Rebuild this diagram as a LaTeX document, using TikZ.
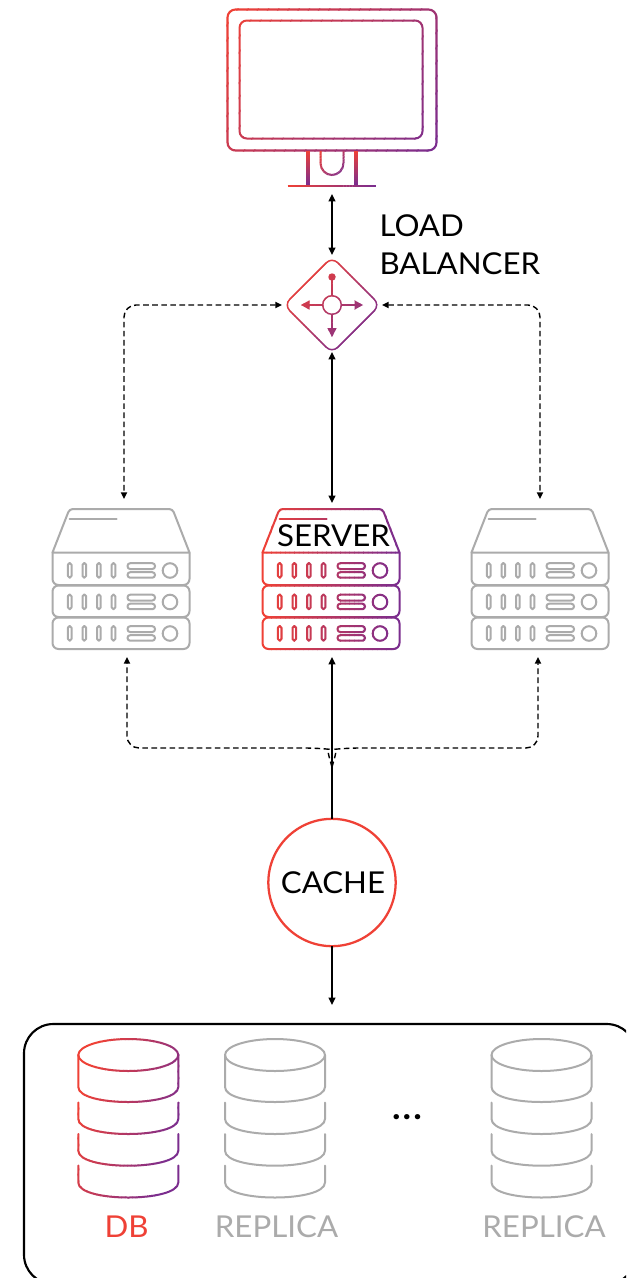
\documentclass[tikz,border=0pt]{standalone}
\usepackage{fontspec}
\setmainfont{Lato}[FakeStretch=1.037]
\usetikzlibrary{arrows.meta,calc}
\definecolor{gbred}{HTML}{EF4136}
\definecolor{gbpurple}{HTML}{7B2D8E}
\definecolor{gbgray}{HTML}{ABABAB}
\tikzset{
  iconbox/.style={inner sep=0pt,outer sep=0pt},
  soft/.style={line width=1.5pt,line cap=round,line join=round},
  solidlink/.style={line width=1.5pt,black,{Triangle[length=5.5pt,width=5pt]}-{Triangle[length=5.5pt,width=5pt]}},
  uplink/.style={line width=1.5pt,black,-{Triangle[length=5.5pt,width=5pt]}},
  dashlink/.style={line width=1.05pt,black,dash pattern=on 4.2pt off 2.6pt,rounded corners=9pt,{Triangle[length=5pt,width=4.6pt]}-{Triangle[length=5pt,width=4.6pt]}},
  dashup/.style={line width=1.05pt,black,dash pattern=on 4.2pt off 2.6pt,rounded corners=9pt,-{Triangle[length=5pt,width=4.6pt]}},
  label/.style={inner sep=0pt,outer sep=0pt,font=\fontsize{22.6}{28.5}\selectfont},
}
% stroke content in a colour running from red at A to purple at B
\newcommand\gradstroke[5]{%
  \pgfmathsetmacro\gdx{#3-#1}\pgfmathsetmacro\gdy{#4-#2}%
  \foreach \gi in {0,...,29}{%
    \pgfmathsetmacro\gpct{100*\gi/29}%
    \pgfmathsetmacro\gta{\gi==0 ? -4 : \gi/30}%
    \pgfmathsetmacro\gtb{\gi==29 ? 5 : (\gi+1)/30+0.004}%
    \begin{scope}
      \clip ({#1+\gta*\gdx-3*\gdy},{#2+\gta*\gdy+3*\gdx})
         -- ({#1+\gtb*\gdx-3*\gdy},{#2+\gtb*\gdy+3*\gdx})
         -- ({#1+\gtb*\gdx+3*\gdy},{#2+\gtb*\gdy-3*\gdx})
         -- ({#1+\gta*\gdx+3*\gdy},{#2+\gta*\gdy-3*\gdx}) -- cycle;
      \begin{scope}[color=gbpurple!\gpct!gbred]
        #5
      \end{scope}
    \end{scope}
  }%
}
\newcommand\rackunit[1]{%
  \foreach \sx in {279.7,294.3,308.9,323.5}{
    \draw[rounded corners=1.3pt] (\sx-1.8,#1+10) rectangle (\sx+1.8,#1+24.7);
  }
  \draw[rounded corners=2pt] (337.5,#1+10.2) rectangle (365,#1+16);
  \draw[rounded corners=2pt] (337.5,#1+19.2) rectangle (365,#1+24.7);
  \draw (380,#1+17.5) circle[radius=7.3];
}
\newcommand\serverbody{%
  \begin{scope}[soft]
  \draw (262.5,552.5) [rounded corners=2.5pt] -- (279.5,509) -- (382.5,509) [sharp corners] -- (399.5,552.5) -- cycle;
  \draw (279.7,519) -- (326.7,519);
  \draw (262.5,552.5) [rounded corners=4.5pt] -- (262.5,585) -- (399.5,585) [sharp corners] -- (399.5,552.5);
  \draw[rounded corners=4.5pt] (262.5,585.5) rectangle (399.5,617);
  \draw[rounded corners=4.5pt] (262.5,617.5) rectangle (399.5,649);
  \rackunit{553}\rackunit{584.5}\rackunit{616}
  \end{scope}
}
\newcommand\dblayer[2]{%
  (78.3,#1) -- (78.3,#2-15) .. controls (78.3,#2-5) and (103,#2) .. (128.3,#2)
  .. controls (153,#2) and (178.3,#2-5) .. (178.3,#2-15) -- (178.3,#1)
}
\newcommand\dbbody{%
  \begin{scope}[soft]
  \draw (128.3,1055) ellipse[x radius=50,y radius=16];
  \draw \dblayer{1055}{1102};
  \draw \dblayer{1102.5}{1134};
  \draw \dblayer{1134}{1165.7};
  \draw \dblayer{1165.5}{1197.5};
  \end{scope}
}
\begin{document}
\begin{tikzpicture}[x=0.75pt,y=-0.75pt]
\useasboundingbox (0,0) rectangle (626,1278);
\fill[white] (0,0) rectangle (626,1278);
\clip (0,0) rectangle (626,1278);

% anchors for the connectors
\node[iconbox,minimum width=157.5pt,minimum height=133.5pt] (monitor) at (332,98) {};
\node[iconbox,minimum width=67.5pt,minimum height=67.5pt] (lb) at (332,305) {};
\node[iconbox,minimum width=102.75pt,minimum height=105pt] (srvL) at (121,579) {};
\node[iconbox,minimum width=102.75pt,minimum height=105pt] (srvC) at (331,579) {};
\node[iconbox,minimum width=102.75pt,minimum height=105pt] (srvR) at (540,579) {};
\coordinate (topL) at (124,499);
\coordinate (topR) at (540,499);
\coordinate (botL) at (127,657);
\coordinate (botR) at (538,657);
\coordinate (join) at (332,767);

% container
\node[draw=black,line width=1.6pt,rounded corners=22pt,inner sep=0pt,outer sep=0pt,minimum width=459pt,minimum height=195pt] (container) at (330,1154) {};

% monitor
\gradstroke{227}{9}{437}{151}{
  \draw[line width=1.6pt,rounded corners=6pt] (227.5,9.5) rectangle (436.5,150.5);
  \draw[line width=1.5pt,rounded corners=5.5pt] (239.5,20.5) rectangle (422.5,138.5);
}
\gradstroke{320}{151}{344}{175}{
  \draw[line width=1.5pt] (320.5,151) -- (320.5,163) arc[start angle=180,end angle=360,x radius=11.5,y radius=-12] -- (343.5,151);
}
\gradstroke{332}{151}{332}{186}{
  \draw[line width=2.7pt] (307.7,151) -- (307.7,186);
  \draw[line width=2.7pt] (355.7,151) -- (355.7,186);
}
\gradstroke{287}{186}{376}{186}{
  \draw[line width=1.6pt] (287.5,185.7) -- (376,185.7);
}

% load balancer
\gradstroke{300}{272}{365}{338}{
  \draw[line width=1.1pt,rounded corners=6pt] (332,257) -- (380,305) -- (332,353) -- (284,305) -- cycle;
  \draw[line width=1.1pt] (332,305) circle[radius=9.3];
  \draw[line width=1.1pt] (332,279) -- (332,295.7);
  \draw[line width=1.1pt] (332,314.3) -- (332,330);
  \draw[line width=1.1pt] (308,305) -- (322.7,305);
  \draw[line width=1.1pt] (341.3,305) -- (356,305);
  \fill (332,277) circle[radius=3.7];
  \fill (301,305) -- (309.5,300.3) -- (309.5,309.7) -- cycle;
  \fill (363,305) -- (354.5,300.3) -- (354.5,309.7) -- cycle;
  \fill (332,337) -- (327.3,328) -- (336.7,328) -- cycle;
}

% servers
\begin{scope}[shift={(-210,0)},color=gbgray]\serverbody\end{scope}
\begin{scope}[shift={(209,0)},color=gbgray]\serverbody\end{scope}
\gradstroke{262}{579}{400}{579}{\serverbody}
\node[label,anchor=base] (srvtext) at (333.5,546.7) {SERVER};

% databases
\gradstroke{78}{1100}{178}{1130}{\dbbody}
\begin{scope}[shift={(146.7,0)},color=gbgray]\dbbody\end{scope}
\begin{scope}[shift={(413.2,0)},color=gbgray]\dbbody\end{scope}
\node[label,anchor=base,text=gbred] (dbtext) at (126.5,1237.7) {DB};
\node[label,anchor=base,text=gbgray] (rep1) at (276.5,1237.7) {REPLICA};
\node[label,anchor=base,text=gbgray] (rep2) at (544,1237.7) {REPLICA};
\node[inner sep=0pt,outer sep=0pt,anchor=base,font=\fontsize{26}{28}\selectfont\bfseries] (dots) at (407,1119) {.\kern1.6pt.\kern1.6pt.};

% label of the balancer
\node[label,anchor=north west,align=left] (lbtext) at (379.5,214.5) {LOAD\\BALANCER};

% cache
\node[circle,draw=gbred,line width=1.7pt,fill=white,minimum size=95.5pt,inner sep=0pt,outer sep=0pt,font=\fontsize{22.6}{26}\selectfont] (cache) at (332,882.5) {\kern1.5pt CACHE};

% connectors
\draw[solidlink,shorten <=5.25pt,shorten >=3.75pt] (monitor.south) -- (lb.north);
\draw[solidlink,shorten <=1.5pt,shorten >=4.5pt] (lb.south) -- (lb.south |- srvC.north);
\draw[dashlink,shorten <=3.75pt] (lb.west) -| (topL);
\draw[dashlink,shorten <=3.75pt] (lb.east) -| (topR);
\draw[dashup] (join) .. controls (330,760) and (326.5,749) .. (317,748) -- (127,748) -- (botL);
\draw[dashup] (join) .. controls (334,760) and (337.5,749) .. (347,748) -- (538,748) -- (botR);
\draw[uplink,shorten >=6pt] (cache.north) -- (cache.north |- srvC.south);
\draw[uplink,shorten >=14.25pt] (cache.south) -- (cache.south |- container.north);
\end{tikzpicture}
\end{document}
